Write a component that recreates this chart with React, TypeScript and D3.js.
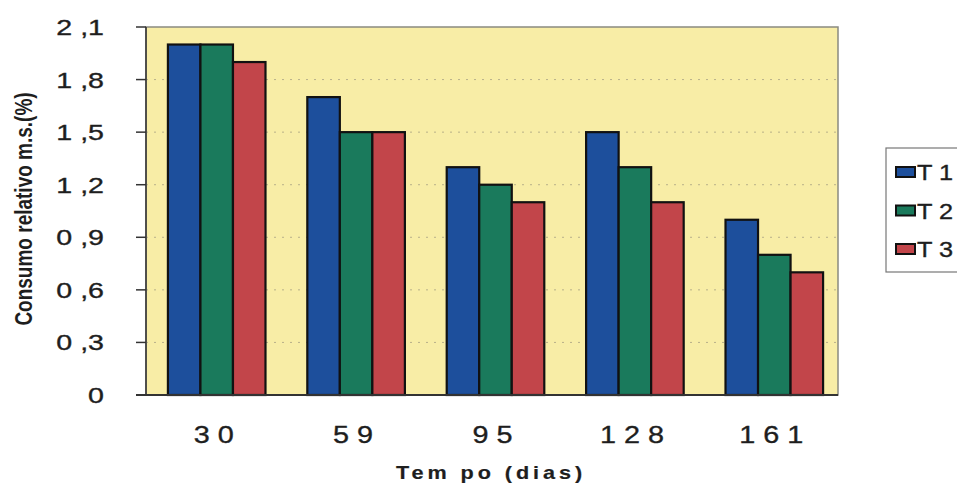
import React from "react";
import * as d3 from "d3";

const categories = ["30", "59", "95", "128", "161"];
const seriesNames = ["T1", "T2", "T3"];
const t1 = [2.0, 1.7, 1.3, 1.5, 1.0];
const t2 = [2.0, 1.5, 1.2, 1.3, 0.8];
const t3 = [1.9, 1.5, 1.1, 1.1, 0.7];
const yTicks = [0, 0.3, 0.6, 0.9, 1.2, 1.5, 1.8, 2.1];
const colors = ["#1d4f9c", "#1a7a5c", "#c2454a"];

const W = 957;
const H = 487;
const plot = { left: 146, right: 838, top: 27, bottom: 395 };

const spaced = (s: string) => s.split("").join(" ");
const fmtTick = (t: number) => (t === 0 ? "0" : d3.format(".1f")(t).replace(".", " ,"));

// Wide sans text: Arial stretched horizontally around its anchor point
function WideText(props: { x: number; y: number; sx: number; size: number; anchor: string; children: string; weight?: string; spacing?: number }) {
  const { x, y, sx, size, anchor, children, weight, spacing } = props;
  return (
    <text transform={`translate(${x},${y}) scale(${sx},1)`} textAnchor={anchor} fontSize={size}
      fontWeight={weight ?? "normal"} letterSpacing={spacing ?? 0} fill="#1e1e1e"
      stroke="#1e1e1e" strokeWidth={weight === "bold" ? 0.2 : 0.35}>{children}</text>
  );
}

export default function App() {
  const values = [t1, t2, t3];
  const y = d3.scaleLinear().domain([0, 2.1]).range([plot.bottom, plot.top]);
  const x0 = d3.scaleBand<string>().domain(categories).range([147, 844]).paddingInner(0.3).paddingOuter(0.15);
  const x1 = d3.scaleBand<string>().domain(seriesNames).range([0, x0.bandwidth()]);

  return (
    <svg width={W} height={H} style={{ position: "absolute", left: 0, top: 0, background: "#fff" }}
      fontFamily="Arial, 'Liberation Sans', sans-serif">
      <rect x={plot.left} y={plot.top} width={plot.right - plot.left} height={plot.bottom - plot.top}
        fill="#f8eda6" stroke="#8a8a80" strokeWidth={1.5} />
      {yTicks.slice(1, -1).map((t) => (
        <line key={t} x1={plot.left} x2={plot.right} y1={y(t)} y2={y(t)} stroke="#b8b08a"
          strokeWidth={1} strokeDasharray="2 6" />
      ))}
      {categories.map((c, i) => (
        <g key={c}>
          {seriesNames.map((s, j) => (
            <rect key={s} x={(x0(c) ?? 0) + (x1(s) ?? 0)} y={y(values[j][i])}
              width={x1.bandwidth()} height={y(0) - y(values[j][i])}
              fill={colors[j]} stroke="#111" strokeWidth={2.2} />
          ))}
          <WideText x={(x0(c) ?? 0) + x0.bandwidth() / 2 - 3} y={443} sx={1.2} size={24} anchor="middle">
            {spaced(c)}
          </WideText>
        </g>
      ))}
      <line x1={plot.left} x2={plot.left} y1={plot.top} y2={plot.bottom} stroke="#333" strokeWidth={1.5} />
      <line x1={136} x2={plot.right} y1={plot.bottom} y2={plot.bottom} stroke="#333" strokeWidth={1.8} />
      {yTicks.map((t) => (
        <g key={t}>
          <line x1={136} x2={plot.left} y1={y(t)} y2={y(t)} stroke="#333" strokeWidth={1.5} />
          <WideText x={104} y={y(t) + 8} sx={1.3} size={22} anchor="end">{fmtTick(t)}</WideText>
        </g>
      ))}
      <WideText x={491} y={479} sx={1.2} size={18} anchor="middle" weight="bold" spacing={3.3}>
        Tem po (dias)
      </WideText>
      <text transform={`translate(32,209) rotate(-90) scale(1,1.25)`} textAnchor="middle" fontSize={19}
        fontWeight="bold" fill="#1e1e1e">Consumo relativo m.s.(%)</text>
      <rect x={886} y={148} width={80} height={124} fill="#fff" stroke="#777" strokeWidth={1.2} />
      {seriesNames.map((s, j) => (
        <g key={s}>
          <rect x={896} y={167 + j * 38.5} width={19} height={10} fill={colors[j]} stroke="#111" strokeWidth={2} />
          <WideText x={917} y={180 + j * 38.5} sx={1.15} size={22} anchor="start">{spaced(s)}</WideText>
        </g>
      ))}
    </svg>
  );
}
